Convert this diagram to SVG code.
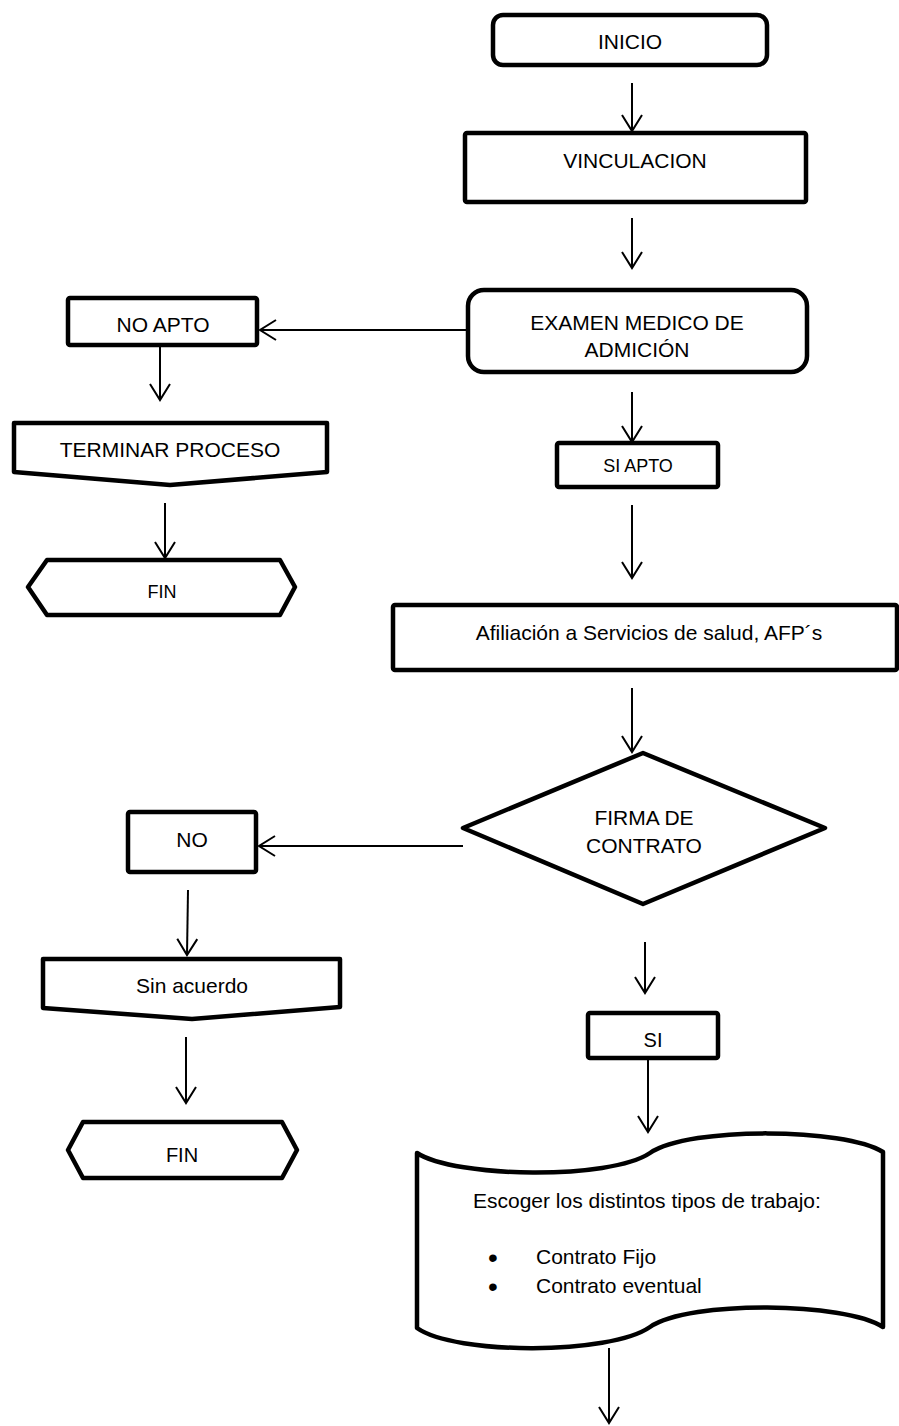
<svg xmlns="http://www.w3.org/2000/svg" width="899" height="1426" viewBox="0 0 899 1426">
<style>
.s{fill:#fff;stroke:#000;stroke-width:4.5;stroke-linejoin:round}
.t{font-family:"Liberation Sans",Arial,sans-serif;font-size:21px;fill:#000;text-anchor:middle}
.c{fill:none;stroke:#000;stroke-width:2}
</style>
<defs>
<marker id="ah" viewBox="-18 -12 20 24" markerWidth="20" markerHeight="24" refX="0" refY="0" orient="auto" markerUnits="userSpaceOnUse">
<path d="M-16,-10 L0,0 L-16,10" fill="none" stroke="#000" stroke-width="2"/>
</marker>
</defs>
<rect width="899" height="1426" fill="#fff"/>
<g id="connectors">
<path class="c" d="M632,83 V131" marker-end="url(#ah)"/>
<path class="c" d="M632,218 V268" marker-end="url(#ah)"/>
<path class="c" d="M468,330 H260" marker-end="url(#ah)"/>
<path class="c" d="M160,345 V400" marker-end="url(#ah)"/>
<path class="c" d="M165,503 V558" marker-end="url(#ah)"/>
<path class="c" d="M632,392 V442" marker-end="url(#ah)"/>
<path class="c" d="M632,505 V578" marker-end="url(#ah)"/>
<path class="c" d="M632,688 V752" marker-end="url(#ah)"/>
<path class="c" d="M463,846 H259" marker-end="url(#ah)"/>
<path class="c" d="M188,890 L187,955" marker-end="url(#ah)"/>
<path class="c" d="M186,1037 V1103" marker-end="url(#ah)"/>
<path class="c" d="M645,942 V993" marker-end="url(#ah)"/>
<path class="c" d="M648,1058 V1132" marker-end="url(#ah)"/>
<path class="c" d="M609,1348 V1423" marker-end="url(#ah)"/>
</g>
<g id="inicio">
<rect class="s" x="493" y="15" width="274" height="50" rx="10"/>
<text class="t" x="630" y="49">INICIO</text>
</g>
<g id="vinculacion">
<rect class="s" x="465" y="133" width="341" height="69" rx="2"/>
<text class="t" x="635" y="168">VINCULACION</text>
</g>
<g id="examen">
<rect class="s" x="468" y="290" width="339" height="82" rx="16"/>
<text class="t" x="637" y="330">EXAMEN MEDICO DE</text>
<text class="t" x="637" y="357">ADMICIÓN</text>
</g>
<g id="noapto">
<rect class="s" x="68" y="298" width="189" height="47" rx="2"/>
<text class="t" x="163" y="332">NO APTO</text>
</g>
<g id="terminar">
<path class="s" d="M14,423 H327 V472 L170,485 L14,472 Z"/>
<text class="t" x="170" y="457">TERMINAR PROCESO</text>
</g>
<g id="fin1">
<path class="s" d="M47,560 H280 L295,587 L280,615 H47 L28,587 Z"/>
<text class="t" x="162" y="598" style="font-size:18px">FIN</text>
</g>
<g id="siapto">
<rect class="s" x="557" y="443" width="161" height="44" rx="2"/>
<text class="t" x="638" y="472" style="font-size:18px">SI APTO</text>
</g>
<g id="afiliacion">
<rect class="s" x="393" y="605" width="504" height="65" rx="2"/>
<text class="t" x="649" y="640">Afiliación a Servicios de salud, AFP´s</text>
</g>
<g id="firma">
<path class="s" d="M643,753 L825,828 L643,904 L463,828 Z"/>
<text class="t" x="644" y="825">FIRMA DE</text>
<text class="t" x="644" y="853">CONTRATO</text>
</g>
<g id="no">
<rect class="s" x="128" y="812" width="128" height="60" rx="2"/>
<text class="t" x="192" y="847">NO</text>
</g>
<g id="sinacuerdo">
<path class="s" d="M43,959 H340 V1007 L192,1019 L43,1008 Z"/>
<text class="t" x="192" y="993">Sin acuerdo</text>
</g>
<g id="fin2">
<path class="s" d="M83,1122 H282 L297,1150 L282,1178 H83 L68,1150 Z"/>
<text class="t" x="182" y="1162" style="font-size:20px">FIN</text>
</g>
<g id="si">
<rect class="s" x="588" y="1013" width="130" height="45" rx="2"/>
<text class="t" x="653" y="1047" style="font-size:20px">SI</text>
</g>
<g id="escoger">
<path class="s" d="M417,1153 C455,1178 610,1180 650,1153 C690,1126 845,1128 883,1152 V1327 C845,1302 690,1300 650,1327 C610,1355 455,1355 417,1328 Z"/>
<text class="t" x="473" y="1208" style="text-anchor:start">Escoger los distintos tipos de trabajo:</text>
<text class="t" x="488" y="1267" style="text-anchor:start;font-size:28px">•</text>
<text class="t" x="536" y="1264" style="text-anchor:start">Contrato Fijo</text>
<text class="t" x="488" y="1296" style="text-anchor:start;font-size:28px">•</text>
<text class="t" x="536" y="1293" style="text-anchor:start">Contrato eventual</text>
</g>
</svg>
